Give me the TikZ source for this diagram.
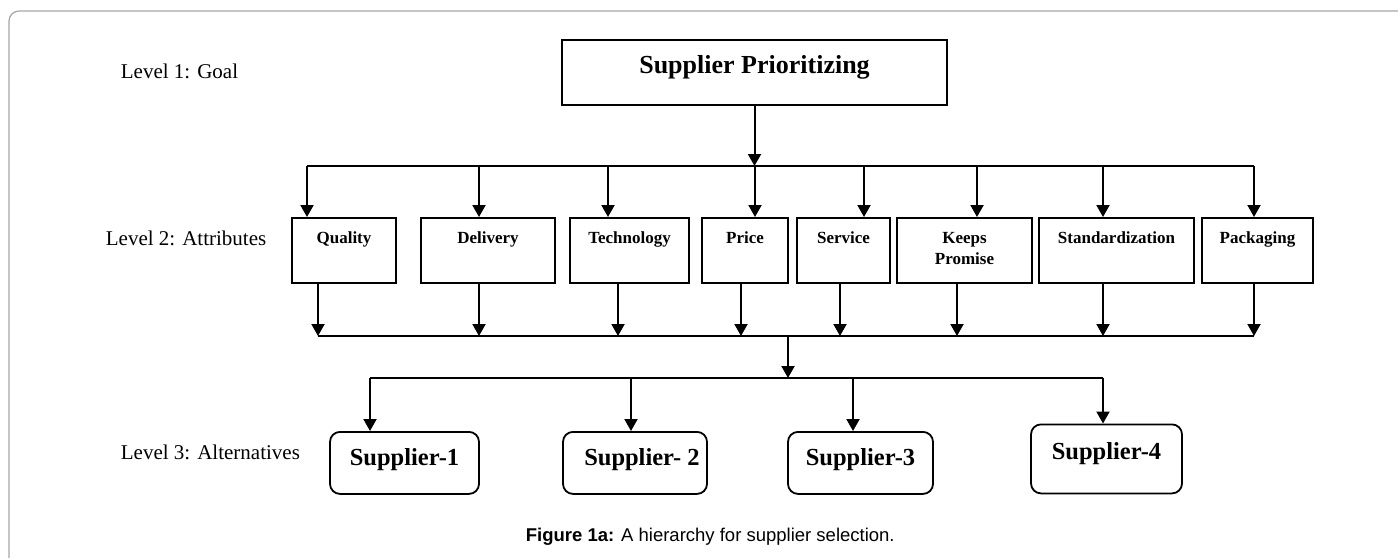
\documentclass[tikz,border=0pt]{standalone}
\usepackage{fontspec}
\setmainfont{Liberation Serif}
\newfontfamily\capfont{Liberation Sans}
\usetikzlibrary{arrows.meta}

\begin{document}
\begin{tikzpicture}[x=1pt,y=-1pt,line width=1.8pt,
  arr/.style={line width=2pt,-{Triangle[width=13pt,length=12pt]}},
  bus/.style={line width=1.5pt},
  goalbox/.style={rectangle,draw,anchor=north,inner sep=0pt,font=\fontsize{26}{30}\selectfont\bfseries},
  attbox/.style={rectangle,draw,anchor=north,inner sep=0pt,text height=25.7pt,text depth=39.3pt,font=\fontsize{17}{21}\selectfont\bfseries},
  altbox/.style={rectangle,rounded corners=10pt,draw,anchor=north,inner sep=0pt,font=\fontsize{24.5}{28}\selectfont\bfseries},
  level/.style={anchor=base west,inner sep=0pt,font=\fontsize{21}{25}\selectfont}]
\useasboundingbox (0,0) rectangle (1398,558);
\draw[black!35,line width=1.2pt,rounded corners=10pt] (9,558) -- (9,11) -- (1398,11);
\begin{scope}
% levels
\node (L1) at (120,78.3) [level] {Level 1: Goal};
\node (L2) at (105,245) [level] {Level 2: Attributes};
\node (L3) at (120,459) [level] {Level 3: Alternatives};
% goal
\node (SP) at (754.5,39) [goalbox,minimum width=385pt,text height=33.7pt,text depth=31.3pt] {Supplier Prioritizing};
% attributes
\node (Q) at (344,217) [attbox,minimum width=104pt] {Quality};
\node (D) at (488,217) [attbox,minimum width=134pt] {Delivery};
\node (T) at (629.5,217) [attbox,minimum width=119pt] {Technology};
\node (P) at (745,217) [attbox,minimum width=86pt] {Price};
\node (S) at (843.5,217) [attbox,minimum width=93pt] {Service};
\node (KP) at (964.5,217) [attbox,minimum width=135pt] {\begin{tabular}[t]{@{}c@{}}Keeps\\Promise\end{tabular}};
\node (ST) at (1116.5,217) [attbox,minimum width=155pt] {Standardization};
\node (PK) at (1257.5,217) [attbox,minimum width=111pt] {Packaging};
% alternatives
\node (S1) at (404.5,431) [altbox,minimum width=149pt,text height=34pt,text depth=28pt] {Supplier-1};
\node (S2) at (635,431) [altbox,minimum width=144pt,text height=34pt,text depth=28pt] {\hspace*{14pt}Supplier- 2};
\node (S3) at (860.5,431) [altbox,minimum width=145pt,text height=34pt,text depth=28pt] {Supplier-3};
\node (S4) at (1106.5,423.5) [altbox,minimum width=151pt,text height=35pt,text depth=34pt] {Supplier-4};
% caption
\node (CAP) at (525,541.7) [anchor=base west,inner sep=0pt,font=\capfont\fontsize{18.5}{22}\selectfont] {{\bfseries Figure 1a:} A hierarchy for supplier selection.};
% upper bus
\coordinate (QA) at (307,166);
\coordinate (DA) at (479,166);
\coordinate (TA) at (608,166);
\coordinate (PA) at (755,166);
\coordinate (SA) at (864,166);
\coordinate (KPA) at (977,166);
\coordinate (STA) at (1103,166);
\coordinate (PKA) at (1254,166);
\draw[arr] (SP.south) -- (SP.south |- PA);
\draw[bus] (QA) -- (PKA);
\draw[arr] (QA) -- (QA |- Q.north);
\draw[arr] (DA) -- (DA |- D.north);
\draw[arr] (TA) -- (TA |- T.north);
\draw[arr] (PA) -- (PA |- P.north);
\draw[arr] (SA) -- (SA |- S.north);
\draw[arr] (KPA) -- (KPA |- KP.north);
\draw[arr] (STA) -- (STA |- ST.north);
\draw[arr] (PKA) -- (PKA |- PK.north);
% lower bus
\coordinate (QB) at (318,336);
\coordinate (DB) at (479,336);
\coordinate (TB) at (618,336);
\coordinate (PB) at (741,336);
\coordinate (SB) at (840,336);
\coordinate (KPB) at (957,336);
\coordinate (STB) at (1103,336);
\coordinate (PKB) at (1254,336);
\draw[bus] (QB) -- (PKB);
\draw[arr] (Q.south -| QB) -- (QB);
\draw[arr] (D.south -| DB) -- (DB);
\draw[arr] (T.south -| TB) -- (TB);
\draw[arr] (P.south -| PB) -- (PB);
\draw[arr] (S.south -| SB) -- (SB);
\draw[arr] (KP.south -| KPB) -- (KPB);
\draw[arr] (ST.south -| STB) -- (STB);
\draw[arr] (PK.south -| PKB) -- (PKB);
% alternatives bus
\coordinate (M) at (788,336);
\coordinate (MB) at (788,378);
\coordinate (S1A) at (370,378);
\coordinate (S2A) at (631,378);
\coordinate (S3A) at (853,378);
\coordinate (S4A) at (1103,378);
\draw[arr] (M) -- (MB);
\draw[bus] (S1A) -- (S4A);
\draw[arr] (S1A) -- (S1A |- S1.north);
\draw[arr] (S2A) -- (S2A |- S2.north);
\draw[arr] (S3A) -- (S3A |- S3.north);
\draw[arr] (S4A) -- (S4A |- S4.north);
\end{scope}
\end{tikzpicture}
\end{document}
